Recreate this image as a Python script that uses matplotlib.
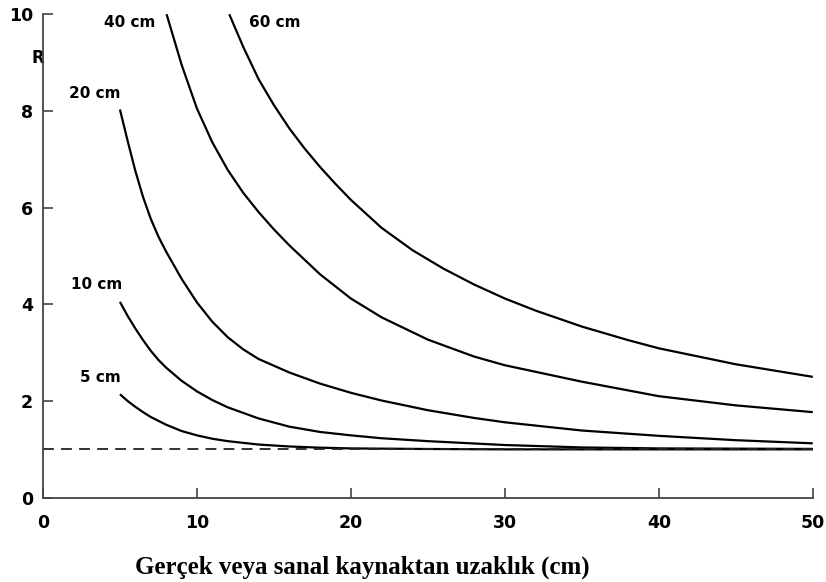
import matplotlib
matplotlib.use("Agg")
import matplotlib.pyplot as plt

# ---- data ----
labels = ["5 cm", "10 cm", "20 cm", "40 cm", "60 cm"]

x_5 = [5, 5.5, 6, 6.5, 7, 8, 9, 10, 11, 12, 14, 16, 18, 20, 25, 30, 40, 50]
y_5 = [2.14, 2.00, 1.88, 1.77, 1.67, 1.51, 1.38, 1.29, 1.22, 1.17, 1.10, 1.06, 1.035,
       1.02, 1.008, 1.0, 1.0, 1.0]

x_10 = [5, 5.5, 6, 6.5, 7, 7.5, 8, 9, 10, 11, 12, 14, 16, 18, 20, 22, 25, 30, 35, 40, 50]
y_10 = [4.05, 3.76, 3.50, 3.26, 3.04, 2.85, 2.69, 2.42, 2.20, 2.02, 1.87, 1.64, 1.47,
        1.36, 1.29, 1.23, 1.17, 1.09, 1.04, 1.02, 1.01]

x_20 = [5, 5.5, 6, 6.5, 7, 7.5, 8, 9, 10, 11, 12, 13, 14, 16, 18, 20, 22, 25, 28, 30,
        35, 40, 45, 50]
y_20 = [8.03, 7.38, 6.76, 6.22, 5.77, 5.40, 5.09, 4.53, 4.04, 3.64, 3.32, 3.07, 2.87,
        2.59, 2.36, 2.17, 2.01, 1.81, 1.65, 1.56, 1.39, 1.28, 1.19, 1.125]

x_40 = [8.03, 9, 10, 11, 12, 13, 14, 15, 16, 18, 20, 22, 25, 28, 30, 35, 40, 45, 50]
y_40 = [10.0, 8.96, 8.05, 7.35, 6.78, 6.31, 5.91, 5.55, 5.22, 4.62, 4.12, 3.73, 3.27,
        2.92, 2.74, 2.40, 2.10, 1.91, 1.77]

x_60 = [12.1, 13, 14, 15, 16, 17, 18, 19, 20, 22, 24, 26, 28, 30, 32, 35, 38, 40, 45, 50]
y_60 = [10.0, 9.33, 8.66, 8.12, 7.64, 7.22, 6.84, 6.49, 6.16, 5.58, 5.12, 4.74, 4.41,
        4.12, 3.87, 3.54, 3.26, 3.09, 2.76, 2.50]

reference_level = 1.0
x_ticks = [0, 10, 20, 30, 40, 50]
y_ticks = [0, 2, 4, 6, 8, 10]
x_label = "Gerçek veya sanal kaynaktan uzaklık (cm)"
y_label = "R"

# ---- figure ----
fig = plt.figure(figsize=(8.26, 5.82), dpi=100)
ax = fig.add_axes([0.052, 0.1448, 0.932, 0.8308])

series = [(x_5, y_5), (x_10, y_10), (x_20, y_20), (x_40, y_40), (x_60, y_60)]
for xs, ys in series:
    ax.plot(xs, ys, color="black", lw=1.6, solid_capstyle="butt",
            solid_joinstyle="round", clip_on=False)

ax.plot([0, 50], [reference_level, reference_level], color="#222222", lw=1.3,
        linestyle=(0, (6, 4)), clip_on=False)

ax.set_xlim(0, 50)
ax.set_ylim(0, 10)
for s in ["top", "right"]:
    ax.spines[s].set_visible(False)
for s in ["left", "bottom"]:
    ax.spines[s].set_color("#444444")
    ax.spines[s].set_linewidth(1.3)

label_font = dict(family="DejaVu Sans", weight="bold", size=12.5)
ax.set_xticks(x_ticks)
ax.set_yticks(y_ticks)
ax.set_xticklabels([str(v) for v in x_ticks], **label_font)
ax.set_yticklabels([str(v) for v in y_ticks], **label_font)
ax.tick_params(axis="both", direction="in", length=7, width=1.2, color="#444444")
ax.tick_params(axis="x", pad=12)
ax.tick_params(axis="y", pad=7)

ax.set_ylabel(y_label, rotation=0, family="DejaVu Sans", weight="bold", size=12,
              ha="center", va="center")
ax.yaxis.set_label_coords(-0.0065, 0.909)

fig.text(0.439, 0.026, x_label, family="Liberation Serif", weight="bold", size=18,
         ha="center", va="center")

curve_font = dict(family="DejaVu Sans", weight="bold", size=11, ha="center", va="center")
label_pos = [(3.73, 2.48), (3.47, 4.40), (3.34, 8.37), (5.62, 9.82), (15.06, 9.82)]
for txt, (lx, ly) in zip(labels, label_pos):
    ax.text(lx, ly, txt, **curve_font)

fig.savefig("out.png", dpi=100)
